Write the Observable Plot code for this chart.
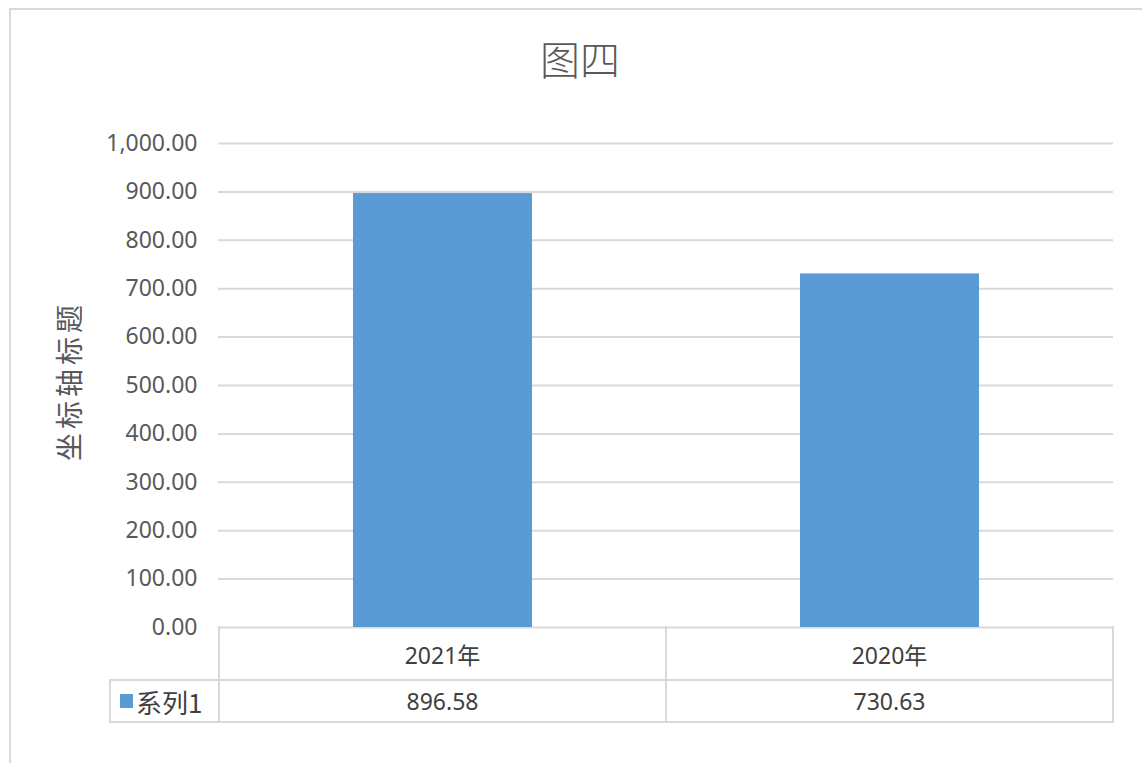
<!DOCTYPE html>
<html>
<head>
<meta charset="utf-8">
<script src="https://cdn.jsdelivr.net/npm/d3@7"></script>
<script src="https://cdn.jsdelivr.net/npm/@observablehq/plot@0.6"></script>
<style>
  html, body { margin: 0; padding: 0; background: #fff; overflow: hidden; }
  #wrap { position: relative; width: 1142px; height: 763px; overflow: hidden;
          font-family: "Noto Sans", "Noto Sans CJK SC", sans-serif; color: #595959; }
  #frame { position: absolute; left: 9px; top: 8px; width: 1200px; height: 800px;
           border: 2px solid #d9d9d9; box-sizing: border-box; }
  #title { position: absolute; left: 0; width: 1160px; top: 38px; text-align: center;
           font-family: "Noto Sans CJK SC", sans-serif; font-size: 40px; font-weight: 300; color: #595959; line-height: 1; }
  #ylabel { position: absolute; left: 68px; top: 381px; transform: translate(-50%, -50%) rotate(-90deg);
            font-family: "Noto Sans CJK SC", sans-serif; font-size: 28px; letter-spacing: 4px; white-space: nowrap; color: #595959; }
  #chart { position: absolute; left: 0; top: 0; }
  .cell { position: absolute; box-sizing: border-box; display: flex; align-items: center; justify-content: center;
          font-size: 23px; color: #404040; font-family: "Noto Sans", "Noto Sans CJK SC", sans-serif; }
  .line { position: absolute; background: #d9d9d9; }
</style>
</head>
<body>
<div id="wrap">
  <div id="frame"></div>
  <div id="title"></div>
  <div id="ylabel"></div>
  <div id="chart"></div>
</div>
<script>
const title = "图四";
const yTitle = "坐标轴标题";
const seriesName = "系列1";
const categories = ["2021年", "2020年"];
const values = [896.58, 730.63];
const yTicks = [0, 100, 200, 300, 400, 500, 600, 700, 800, 900, 1000];

const data = categories.map((c, i) => ({category: c, value: values[i]}));

document.getElementById("title").textContent = title;
document.getElementById("ylabel").textContent = yTitle;

const W = 1142, H = 763;
const mL = 218, mR = 29, mT = 143, mB = 136;

const chart = Plot.plot({
  width: W, height: H,
  marginLeft: mL, marginRight: mR, marginTop: mT, marginBottom: mB,
  style: {background: "transparent", fontFamily: "'Noto Sans', sans-serif"},
  x: {domain: categories, padding: 0, axis: null},
  y: {domain: [0, 1000], ticks: yTicks, axis: null},
  marks: [
    Plot.ruleY(yTicks, {stroke: "#d9d9d9", strokeWidth: 2}),
    Plot.barY(data, {x: "category", y: "value", fill: "#5b9bd5", insetLeft: 134, insetRight: 134}),
    Plot.axisY(yTicks, {tickSize: 0, tickPadding: 21, tickFormat: d3.format(",.2f"),
      fontSize: 23, fill: "#595959", label: null})
  ]
});
document.getElementById("chart").appendChild(chart);

// data table below the plot, aligned with the x band scale
const xs = chart.scale("x");
const ys = chart.scale("y");
const bw = xs.bandwidth;
const top0 = ys.apply(0);
const row1 = 53, row2 = 42;
const wrap = document.getElementById("wrap");
const left0 = xs.apply(categories[0]);
const right0 = xs.apply(categories[categories.length - 1]) + bw;
const legendLeft = 110;

function line(x, y, w, h) {
  const d = document.createElement("div");
  d.className = "line";
  Object.assign(d.style, {left: x + "px", top: y + "px", width: w + "px", height: h + "px"});
  wrap.appendChild(d);
}
function cell(x, y, w, h, html, extra) {
  const d = document.createElement("div");
  d.className = "cell";
  Object.assign(d.style, {left: x + "px", top: y + "px", width: w + "px", height: h + "px"}, extra || {});
  d.innerHTML = html;
  wrap.appendChild(d);
}
// horizontal lines
line(left0 - 1, top0 + row1 - 1, right0 - left0 + 2, 2);
line(legendLeft - 1, top0 + row1 - 1, left0 - legendLeft + 2, 2);
line(legendLeft - 1, top0 + row1 + row2 - 1, right0 - legendLeft + 2, 2);
// vertical lines
line(legendLeft - 1, top0 + row1 - 1, 2, row2 + 2);
categories.forEach((c, i) => {
  const x0 = xs.apply(c);
  line(x0 - 1, top0 - 1, 2, row1 + row2 + 2);
  cell(x0, top0, bw, row1, c);
  cell(x0, top0 + row1, bw, row2, values[i].toFixed(2));
});
line(right0 - 1, top0 - 1, 2, row1 + row2 + 2);
cell(legendLeft, top0 + row1, left0 - legendLeft, row2,
  '<span style="display:inline-block;width:13px;height:14px;background:#5b9bd5;margin-right:3px"></span>' +
  '<span style="font-family:\'Noto Sans CJK SC\',sans-serif;font-size:26px">' + seriesName + '</span>',
  {justifyContent: "flex-start", paddingLeft: "10px"});
</script>
</body>
</html>
